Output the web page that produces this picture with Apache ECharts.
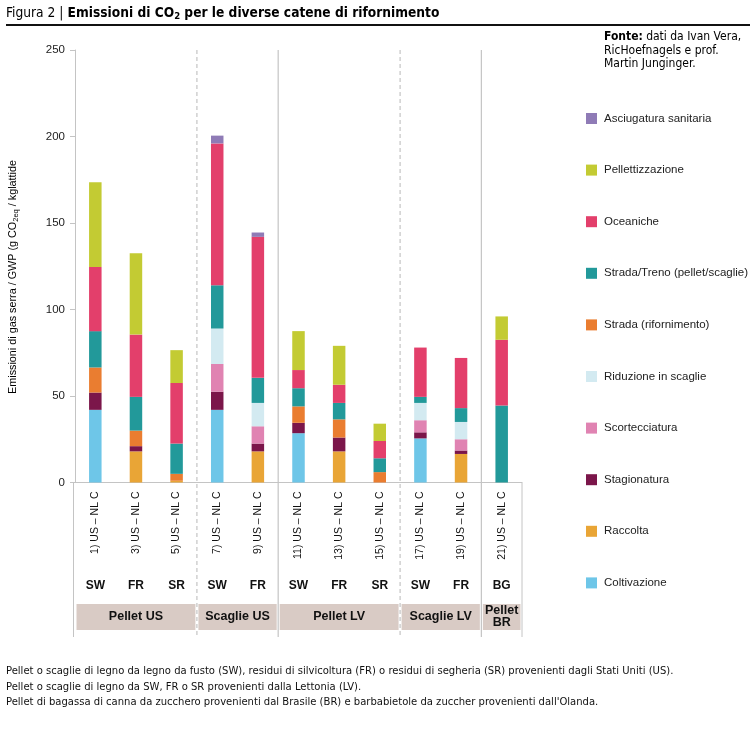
<!DOCTYPE html>
<html>
<head>
<meta charset="utf-8">
<script src="https://cdn.jsdelivr.net/npm/echarts@6/dist/echarts.min.js"></script>
<style>html,body{margin:0;padding:0;background:#fff}#c{width:750px;height:744px}</style>
</head>
<body>
<div id="c"></div>
<script>
const categories = ['1) US – NL C','3) US – NL C','5) US – NL C','7) US – NL C','9) US – NL C','11) US – NL C','13) US – NL C','15) US – NL C','17) US – NL C','19) US – NL C','21) US – NL C'];
const typeLabels = ['SW','FR','SR','SW','FR','SW','FR','SR','SW','FR','BG'];
const groupNames = ['Pellet US','Scaglie US','Pellet LV','Scaglie LV','Pellet\nBR'];
const groupSizes = [3,2,3,2,1];
const separatorTypes = ['dashed','solid','dashed','solid'];
const yTicks = [0,50,100,150,200,250];

const coltivazione   = [42, 0, 0, 42, 0, 28.5, 0, 0, 25.5, 0, 0];
const raccolta       = [0, 18, 1, 0, 18, 0, 18, 0, 0, 16.5, 0];
const stagionatura   = [10, 3, 0, 10.5, 4.5, 6, 8, 0, 3.5, 2, 0];
const scortecciatura = [0, 0, 0, 16, 10, 0, 0, 0, 7, 6.5, 0];
const riduzione      = [0, 0, 0, 20.5, 13.5, 0, 0, 0, 10, 10, 0];
const stradaRif      = [14.5, 9, 4, 0, 0, 9.5, 10.5, 6, 0, 0, 0];
const stradaTreno    = [21, 19.5, 17.5, 25, 14.5, 10.5, 9.5, 8, 3.5, 8, 44.5];
const oceaniche      = [37, 36, 35, 82, 81.5, 10.5, 10.5, 10, 28.5, 29, 38];
const pellettizz     = [49, 47, 19, 0, 0, 22.5, 22.5, 10, 0, 0, 13.5];
const asciugatura    = [0, 0, 0, 4.5, 2.5, 0, 0, 0, 0, 0, 0];

const seriesDefs = [
  ['Coltivazione', coltivazione, '#6ec6e8'],
  ['Raccolta', raccolta, '#e9a536'],
  ['Stagionatura', stagionatura, '#7b164a'],
  ['Scortecciatura', scortecciatura, '#e083b2'],
  ['Riduzione in scaglie', riduzione, '#d3eaf1'],
  ['Strada (rifornimento)', stradaRif, '#ea7d30'],
  ['Strada/Treno (pellet/scaglie)', stradaTreno, '#22999a'],
  ['Oceaniche', oceaniche, '#e33f6b'],
  ['Pellettizzazione', pellettizz, '#c3cb33'],
  ['Asciugatura sanitaria', asciugatura, '#8f7bb6']
];
const legendOrder = seriesDefs.map(d => d[0]).reverse();

const condensed = "'Liberation Sans Narrow','DejaVu Sans Condensed','Roboto Condensed',sans-serif";
const sans = "'Liberation Sans',Arial,sans-serif";

const chart = echarts.init(document.getElementById('c'), null, {renderer:'canvas'});

const option = {
  animation: false,
  backgroundColor: '#fff',
  grid: {left: 75, width: 447, top: 50, height: 432.5, containLabel: false},
  xAxis: [
    {type:'category', data: categories, axisLine:{show:true, lineStyle:{color:'#c4c4c4', width:1}},
     axisTick:{show:false}, axisLabel:{rotate:90, margin:9, fontSize:10.5, color:'#111', fontFamily:sans}},
    {type:'category', data: typeLabels, position:'bottom', offset: 89, axisLine:{show:false}, axisTick:{show:false},
     axisLabel:{margin:8, fontSize:12, fontWeight:'bold', color:'#111', fontFamily:sans}}
  ],
  yAxis: {type:'value', min:0, max:250, interval:50,
    axisLine:{show:true, lineStyle:{color:'#c4c4c4'}},
    axisTick:{show:true, length:5, lineStyle:{color:'#c4c4c4'}},
    splitLine:{show:false},
    axisLabel:{fontSize:11.5, color:'#222', margin:10, fontFamily:sans}},
  legend: legendOrder.map((n, i) => ({
    data:[n], orient:'vertical', left:586, top: 112.5 + i*51.6,
    itemWidth:11, itemHeight:11, icon:'rect', selectedMode:false, itemGap:0, padding:0,
    textStyle:{fontSize:11.5, color:'#222', fontFamily:sans, padding:[0,0,0,2]}
  })),
  series: seriesDefs.map(d => ({
    name: d[0], type:'bar', stack:'tot', data: d[1], barWidth: 12.5,
    itemStyle:{color: d[2]}, xAxisIndex:0
  }))
};
chart.setOption(option);

// annotation geometry from the axes
const c0 = chart.convertToPixel({xAxisIndex:0}, 0);
const c1 = chart.convertToPixel({xAxisIndex:0}, 1);
const band = c1 - c0;
const leftB = c0 - band/2;
const yTop = chart.convertToPixel({yAxisIndex:0}, 250);
const yBase = chart.convertToPixel({yAxisIndex:0}, 0);
const yBottom = 637;
const gTop = 604, gBot = 630;

const g = [];
// title
g.push({type:'text', left:6, top:6, style:{
  text:'{r|Figura 2 }{p||}{b| Emissioni di CO}{s|2}{b| per le diverse catene di rifornimento}',
  rich:{
    r:{fontSize:13.65, fontFamily:condensed, color:'#111', lineHeight:17},
    p:{fontSize:13.65, fontFamily:condensed, color:'#111', lineHeight:17},
    b:{fontSize:13.65, fontFamily:condensed, fontWeight:'bold', color:'#111', lineHeight:17},
    s:{fontSize:9.5, fontFamily:condensed, fontWeight:'bold', color:'#111', verticalAlign:'bottom', lineHeight:11}
  }}});
g.push({type:'line', shape:{x1:6, y1:25, x2:750, y2:25}, style:{stroke:'#111', lineWidth:2}});
// source
g.push({type:'text', left:604, top:31, style:{
  text:'{b|Fonte:} {n|dati da Ivan Vera,}\n{n|RicHoefnagels e prof.}\n{n|Martin Junginger.}',
  rich:{b:{fontSize:12, fontWeight:'bold', fontFamily:condensed, color:'#111', lineHeight:13.5},
        n:{fontSize:12, fontFamily:condensed, color:'#111', lineHeight:13.5}}}});
// y axis name
g.push({type:'text', x:13, y:277, rotation:Math.PI/2, style:{
  text:'{a|Emissioni di gas serra / GWP (g CO}{s|2eq}{a| / kglattide}',
  align:'center', verticalAlign:'middle',
  rich:{a:{fontSize:10.8, fontFamily:sans, color:'#222', lineHeight:14},
        s:{fontSize:7.5, fontFamily:sans, color:'#222', verticalAlign:'bottom', lineHeight:9}}}});
// outer frame lines below axis
g.push({type:'line', shape:{x1:leftB-1.5, y1:yBase, x2:leftB-1.5, y2:yBottom}, style:{stroke:'#c4c4c4', lineWidth:1}});
const rightB = leftB + band*categories.length;
g.push({type:'line', shape:{x1:rightB, y1:yBase, x2:rightB, y2:yBottom}, style:{stroke:'#c4c4c4', lineWidth:1}});
// groups and separators
let idx = 0;
groupSizes.forEach((sz, gi) => {
  const xa = leftB + band*idx, xb = leftB + band*(idx+sz);
  g.push({type:'rect', shape:{x:xa+1.5, y:gTop, width:xb-xa-3, height:gBot-gTop}, style:{fill:'#d9cbc5'}});
  g.push({type:'text', x:(xa+xb)/2, y:(gTop+gBot)/2, style:{text:groupNames[gi], align:'center', verticalAlign:'middle',
    fontSize:12.5, fontWeight:'bold', fontFamily:sans, fill:'#111', lineHeight:12}});
  idx += sz;
  if (gi < separatorTypes.length) {
    const xs = leftB + band*idx;
    g.push({type:'line', shape:{x1:xs, y1:yTop, x2:xs, y2:yBottom},
      style:{stroke:'#c4c4c4', lineWidth:1.2, lineDash: separatorTypes[gi]==='dashed' ? [4,3] : null}});
  }
});
// footnotes
const notes = [
  'Pellet o scaglie di legno da legno da fusto (SW), residui di silvicoltura (FR) o residui di segheria (SR) provenienti dagli Stati Uniti (US).',
  'Pellet o scaglie di legno da SW, FR o SR provenienti dalla Lettonia (LV).',
  "Pellet di bagassa di canna da zucchero provenienti dal Brasile (BR) e barbabietole da zuccher provenienti dall'Olanda."
];
notes.forEach((t, i) => g.push({type:'text', left:6, top:666 + i*15.5, style:{text:t, fontSize:11.15, fontFamily:condensed, fill:'#111'}}));

chart.setOption({graphic: g});
</script>
</body>
</html>
